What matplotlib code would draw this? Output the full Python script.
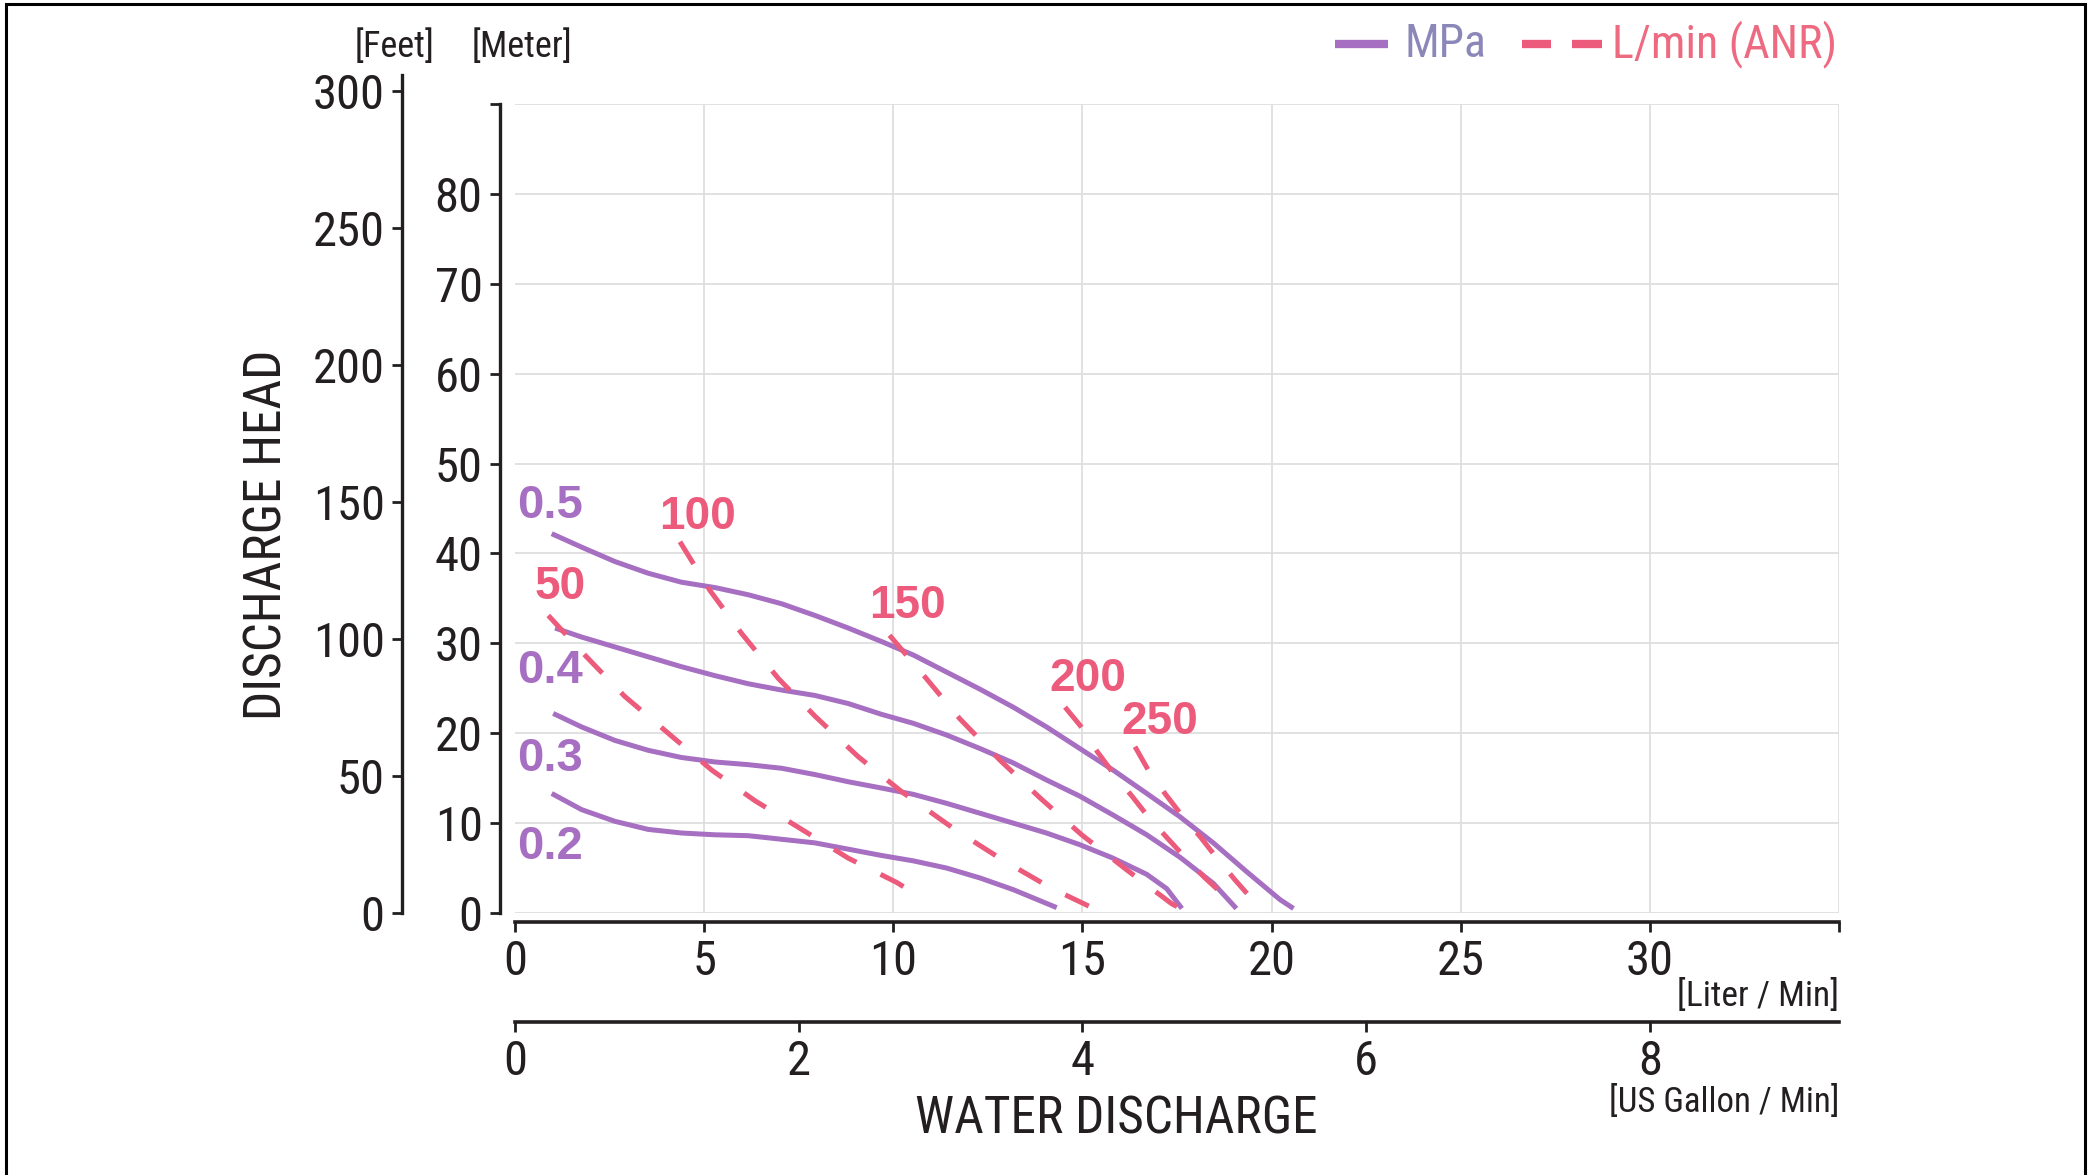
import numpy as np
import matplotlib
matplotlib.use("Agg")
import matplotlib.pyplot as plt
from matplotlib.lines import Line2D
from matplotlib.patches import Rectangle

# ---- data (x: L/min, y: m) ----
mpa_labels = ["0.5", "0.4", "0.3", "0.2"]
mpa_05_x = [0.97, 1.76, 2.64, 3.52, 4.4, 5.29, 6.17, 7.05, 7.93, 8.81, 9.69, 10.53,
            11.41, 12.29, 13.17, 14.05, 14.93, 15.81, 16.7, 17.58, 18.46, 19.34, 20.22, 20.58]
mpa_05_y = [42.2, 40.7, 39.1, 37.8, 36.8, 36.2, 35.4, 34.4, 33.1, 31.7, 30.2, 28.7,
            26.8, 24.9, 22.9, 20.7, 18.3, 15.9, 13.3, 10.7, 7.8, 4.6, 1.5, 0.5]
mpa_04_x = [1.06, 1.76, 2.64, 3.52, 4.4, 5.29, 6.17, 7.05, 7.93, 8.81, 9.69, 10.53,
            11.41, 12.29, 13.17, 14.05, 14.93, 15.81, 16.7, 17.58, 18.46, 19.07]
mpa_04_y = [31.7, 30.7, 29.6, 28.5, 27.4, 26.4, 25.5, 24.8, 24.2, 23.3, 22.1, 21.1,
            19.8, 18.3, 16.7, 14.8, 13.0, 10.9, 8.7, 6.2, 3.3, 0.5]
mpa_03_x = [1.01, 1.76, 2.64, 3.52, 4.4, 5.29, 6.17, 7.05, 7.93, 8.81, 9.69, 10.53,
            11.41, 12.29, 13.17, 14.05, 14.93, 15.81, 16.7, 17.23, 17.63]
mpa_03_y = [22.2, 20.7, 19.2, 18.1, 17.3, 16.8, 16.5, 16.1, 15.4, 14.6, 13.9, 13.2,
            12.2, 11.1, 10.0, 8.9, 7.6, 6.1, 4.3, 2.7, 0.5]
mpa_02_x = [0.97, 1.76, 2.64, 3.52, 4.4, 5.29, 6.17, 7.05, 7.93, 8.81, 9.69, 10.53,
            11.41, 12.29, 13.17, 14.32]
mpa_02_y = [13.3, 11.5, 10.2, 9.3, 8.9, 8.7, 8.6, 8.2, 7.8, 7.1, 6.4, 5.8,
            5.0, 3.9, 2.6, 0.6]

anr_labels = ["50", "100", "150", "200", "250"]
anr_50_x = [0.88, 1.89, 2.9, 4.05, 5.2, 6.34, 7.58, 8.81, 10.09, 10.7]
anr_50_y = [33.1, 28.5, 24.1, 20.0, 15.9, 12.5, 9.3, 6.1, 3.4, 1.8]
anr_100_x = [4.36, 5.15, 5.99, 6.96, 7.93, 9.07, 10.22, 11.66, 12.89, 14.16, 15.35]
anr_100_y = [41.3, 35.9, 31.1, 26.1, 21.9, 17.4, 13.5, 9.2, 5.9, 2.8, 0.4]
anr_150_x = [9.9, 10.83, 11.76, 12.82, 13.88, 14.98, 16.17, 17.37, 17.8]
anr_150_y = [30.9, 26.3, 21.6, 17.0, 12.8, 8.7, 4.8, 1.0, 0.1]
anr_200_x = [14.54, 15.01, 15.4, 15.84, 16.31, 16.74, 17.23, 17.71, 18.24, 18.68]
anr_200_y = [22.9, 20.5, 17.9, 15.4, 13.0, 10.7, 8.4, 6.2, 3.9, 2.2]
anr_250_x = [16.39, 16.74, 17.18, 17.62, 18.11, 18.5, 19.03, 19.47]
anr_250_y = [18.5, 15.9, 13.3, 10.9, 8.5, 6.4, 3.7, 1.6]

lpm_ticks = [0, 5, 10, 15, 20, 25, 30, 35]
gal_ticks = [0, 2, 4, 6, 8]
m_ticks = [0, 10, 20, 30, 40, 50, 60, 70, 80, 90]
ft_ticks = [0, 50, 100, 150, 200, 250, 300]
GAL_TO_L = 3.75   # as drawn on the chart
M_PER_FT = 0.3048
FT_TOP = 306

# label anchor positions (L/min, m)
mpa_label_pos = [(0.05, 45.3), (0.05, 26.9), (0.05, 17.1), (0.05, 7.3)]
anr_label_pos = [(1.2, 36.3), (4.82, 44.1), (10.37, 34.1), (15.15, 26.0), (17.05, 21.3)]

PURPLE = "#a66fc1"
RED = "#ec5b7b"
DARK = "#231f20"
GRID = "#dedede"
NARROW = ["Roboto Condensed", "DejaVu Sans"]
BOLD = ["Liberation Sans", "DejaVu Sans"]

W, H = 2093, 1175
fig = plt.figure(figsize=(W / 100, H / 100), dpi=100)

# main axes: 0..35 L/min, 0..90 m
ax_l, ax_r, ax_b, ax_t = 515, 1839, 913, 104
ax = fig.add_axes([ax_l / W, 1 - ax_b / H, (ax_r - ax_l) / W, (ax_b - ax_t) / H])
ax.set_xlim(0, 35)
ax.set_ylim(0, 90)
for s in ["top", "right"]:
    ax.spines[s].set_visible(False)
ax.spines["left"].set_position(("outward", 10.8))
ax.spines["bottom"].set_position(("outward", 6.5))
ax.spines["left"].set_linewidth(2.4)
ax.spines["bottom"].set_linewidth(2.6)
ax.spines["left"].set_color(DARK)
ax.spines["bottom"].set_color(DARK)

ax.set_xticks(lpm_ticks)
ax.set_xticklabels([str(t) if t < 35 else "" for t in lpm_ticks])
ax.set_yticks(m_ticks)
ax.set_yticklabels([str(t) if t < 90 else "" for t in m_ticks])
ax.tick_params(axis="both", direction="out", length=7.5, width=2.0, color=DARK,
               labelsize=35, labelcolor=DARK)
ax.tick_params(axis="x", pad=5)
ax.tick_params(axis="y", pad=5)
for lab in ax.get_xticklabels() + ax.get_yticklabels():
    lab.set_family(NARROW)

ax.grid(True, color=GRID, linewidth=1.3)
ax.xaxis.get_gridlines()[0].set_visible(False)
ax.set_axisbelow(True)

# MPa curves
mpa_x = [mpa_05_x, mpa_04_x, mpa_03_x, mpa_02_x]
mpa_y = [mpa_05_y, mpa_04_y, mpa_03_y, mpa_02_y]
for xs, ys in zip(mpa_x, mpa_y):
    ax.plot(xs, ys, color=PURPLE, linewidth=3.6, solid_capstyle="butt",
            solid_joinstyle="round", zorder=3)

# L/min (ANR) air consumption lines
anr_x = [anr_50_x, anr_100_x, anr_150_x, anr_200_x, anr_250_x]
anr_y = [anr_50_y, anr_100_y, anr_150_y, anr_200_y, anr_250_y]
for xs, ys in zip(anr_x, anr_y):
    ax.plot(xs, ys, color=RED, linewidth=3.6, dashes=(5.2, 5.4),
            dash_capstyle="butt", zorder=4)

for lab, (px, py) in zip(mpa_labels, mpa_label_pos):
    ax.text(px, py, lab, color=PURPLE, fontsize=34, fontweight="bold",
            family=BOLD, ha="left", va="center", zorder=5)
for lab, (px, py) in zip(anr_labels, anr_label_pos):
    ax.text(px, py, lab, color=RED, fontsize=33, fontweight="bold",
            family=BOLD, ha="center", va="center", zorder=5)

# US gallon axis below
gal = ax.secondary_xaxis(-(1022 - 913) / (ax_b - ax_t),
                         functions=(lambda x: x / GAL_TO_L, lambda g: g * GAL_TO_L))
gal.set_xticks(gal_ticks)
gal.spines["bottom"].set_linewidth(2.6)
gal.spines["bottom"].set_color(DARK)
gal.tick_params(direction="out", length=7.5, width=2.0, color=DARK,
                labelsize=35, labelcolor=DARK, pad=5)
for lab in gal.get_xticklabels():
    lab.set_family(NARROW)

# feet axis on the far left
ft_top_m = FT_TOP * M_PER_FT
ft_h = (ax_b - ax_t) * ft_top_m / 90
ax_ft = fig.add_axes([402 / W, 1 - ax_b / H, 0.0005, ft_h / H])
ax_ft.set_ylim(0, FT_TOP)
ax_ft.patch.set_visible(False)
for s in ["top", "right", "bottom"]:
    ax_ft.spines[s].set_visible(False)
ax_ft.spines["left"].set_linewidth(2.4)
ax_ft.spines["left"].set_color(DARK)
ax_ft.set_xticks([])
ax_ft.set_yticks(ft_ticks)
ax_ft.tick_params(axis="y", direction="out", length=7.5, width=2.0, color=DARK,
                  labelsize=35, labelcolor=DARK, pad=5)
for lab in ax_ft.get_yticklabels():
    lab.set_family(NARROW)

# axis titles and unit labels (figure pixel positions)
def ftext(x, y, s, **kw):
    fig.text(x / W, 1 - y / H, s, family=NARROW, color=DARK, **kw)

ftext(395, 47, "[Feet]", fontsize=26, ha="center", va="center")
ftext(522, 47, "[Meter]", fontsize=26, ha="center", va="center")
ftext(267, 535, "DISCHARGE HEAD", fontsize=37, ha="center", va="center", rotation=90)
ftext(1839, 996, "[Liter / Min]", fontsize=25.5, ha="right", va="center")
ftext(1839, 1102, "[US Gallon / Min]", fontsize=25, ha="right", va="center")
ftext(1116, 1119, "WATER DISCHARGE", fontsize=37, ha="center", va="center")

# legend drawn by hand at the top right
def fx(px):
    return px / W

def fy(py):
    return 1 - py / H

fig.add_artist(Line2D([fx(1335), fx(1388)], [fy(44), fy(44)], color=PURPLE, linewidth=6,
                      solid_capstyle="butt"))
fig.text(fx(1404), fy(44), "MPa", color="#8b87b9", fontsize=33, family=NARROW,
         ha="left", va="center")
for a, b in [(1522, 1551), (1572, 1602)]:
    fig.add_artist(Line2D([fx(a), fx(b)], [fy(44), fy(44)], color=RED, linewidth=6,
                          solid_capstyle="butt"))
fig.text(fx(1837), fy(44), "L/min (ANR)", color="#ee6a80", fontsize=33, family=NARROW,
         ha="right", va="center")

# outer frame
fig.patches.append(Rectangle((fx(6), -0.05), fx(2085) - fx(6), fy(4) + 0.05,
                             transform=fig.transFigure, fill=False,
                             edgecolor="black", linewidth=2.2))

fig.savefig("out.png", dpi=100)
